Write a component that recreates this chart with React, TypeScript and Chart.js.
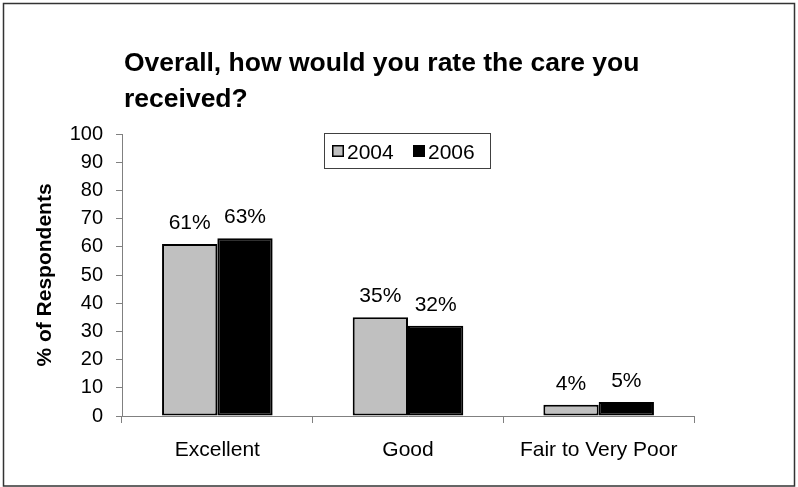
import React, { useEffect, useRef } from "react";
import { Chart, registerables } from "chart.js";

Chart.register(...registerables);

const categories = ["Excellent", "Good", "Fair to Very Poor"];
const seriesLabels = ["2004", "2006"];
const values2004 = [61, 35, 4];
const values2006 = [63, 32, 5];
const seriesColors = ["#C0C0C0", "#000000"];
const titleLines = ["Overall, how would you rate the care you", "received?"];
const yAxisTitle = "% of Respondents";
const yMin = 0;
const yMax = 100;
const yStep = 10;

const FONT = "'Liberation Sans', Arial, Helvetica, sans-serif";

const framePlugin = {
  id: "frame",
  beforeDraw(chart: any) {
    const ctx = chart.ctx;
    ctx.save();
    ctx.fillStyle = "#ffffff";
    ctx.fillRect(0, 0, chart.width, chart.height);
    ctx.strokeStyle = "#333333";
    ctx.lineWidth = 1.5;
    ctx.strokeRect(3.5, 3.5, chart.width - 7, chart.height - 4.5);
    ctx.restore();
  },
};

const titlePlugin = {
  id: "customTitle",
  afterDraw(chart: any) {
    const ctx = chart.ctx;
    ctx.save();
    ctx.fillStyle = "#000";
    ctx.font = `bold 26.5px ${FONT}`;
    ctx.textAlign = "left";
    ctx.textBaseline = "alphabetic";
    titleLines.forEach((line, i) => {
      ctx.fillText(line, 124, 71 + i * 36);
    });
    // y axis title
    const ca = chart.chartArea;
    ctx.translate(45, (ca.top + ca.bottom) / 2);
    ctx.rotate(-Math.PI / 2);
    ctx.font = `bold 21px ${FONT}`;
    ctx.textAlign = "center";
    ctx.textBaseline = "middle";
    ctx.fillText(yAxisTitle, 0, 0);
    ctx.restore();
  },
};

const legendPlugin = {
  id: "customLegend",
  afterDraw(chart: any) {
    const ctx = chart.ctx;
    ctx.save();
    ctx.strokeStyle = "#404040";
    ctx.lineWidth = 1;
    ctx.strokeRect(324.5, 133.5, 166, 35);
    ctx.font = `21px ${FONT}`;
    ctx.textBaseline = "alphabetic";
    ctx.textAlign = "left";
    const starts = [332, 413];
    chart.data.datasets.forEach((ds: any, i: number) => {
      const x = starts[i];
      ctx.fillStyle = ds.backgroundColor;
      ctx.fillRect(x, 145, 12, 12);
      ctx.strokeStyle = "#000";
      ctx.lineWidth = 1.5;
      ctx.strokeRect(x + 0.75, 145.75, 10.5, 10.5);
      ctx.fillStyle = "#000";
      ctx.fillText(ds.label, x + 15, 158.5);
    });
    ctx.restore();
  },
};

const dataLabelPlugin = {
  id: "dataLabels",
  afterDatasetsDraw(chart: any) {
    const ctx = chart.ctx;
    ctx.save();
    ctx.fillStyle = "#000";
    ctx.font = `21px ${FONT}`;
    ctx.textAlign = "center";
    ctx.textBaseline = "alphabetic";
    chart.data.datasets.forEach((ds: any, di: number) => {
      const meta = chart.getDatasetMeta(di);
      meta.data.forEach((el: any, i: number) => {
        ctx.fillText(`${ds.data[i]}%`, el.x, el.y - 15);
      });
    });
    ctx.restore();
  },
};

export default function App() {
  const canvasRef = useRef<HTMLCanvasElement | null>(null);

  useEffect(() => {
    if (!canvasRef.current) return;
    Chart.defaults.font.family = FONT;
    const chart = new Chart(canvasRef.current, {
      type: "bar",
      data: {
        labels: categories,
        datasets: [
          {
            label: seriesLabels[0],
            data: values2004,
            backgroundColor: seriesColors[0],
            borderColor: "#000",
            borderWidth: 2,
            borderSkipped: false,
          },
          {
            label: seriesLabels[1],
            data: values2006,
            backgroundColor: seriesColors[1],
            borderColor: "#000",
            borderWidth: 2,
            borderSkipped: false,
          },
        ],
      },
      options: {
        responsive: false,
        animation: false,
        devicePixelRatio: 1,
        layout: { padding: { left: 0, top: 134, right: 104, bottom: 0 } },
        datasets: {
          bar: { categoryPercentage: 0.58, barPercentage: 1 },
        },
        plugins: {
          legend: { display: false },
          title: { display: false },
          tooltip: { enabled: false },
        },
        scales: {
          x: {
            type: "category",
            offset: true,
            grid: {
              offset: true,
              drawOnChartArea: false,
              drawTicks: true,
              tickLength: 7,
              color: "#808080",
            },
            border: { color: "#808080", width: 1 },
            ticks: { color: "#000", font: { size: 21, family: FONT }, padding: 15, maxRotation: 0, autoSkip: false },
            afterFit: (scale: any) => {
              scale.height = 71;
            },
          },
          y: {
            min: yMin,
            max: yMax,
            ticks: { stepSize: yStep, color: "#000", font: { size: 20, family: FONT }, padding: 13 },
            grid: {
              drawOnChartArea: false,
              drawTicks: true,
              tickLength: 6,
              color: "#808080",
            },
            border: { color: "#808080", width: 1 },
            afterFit: (scale: any) => {
              scale.width = 122;
            },
          },
        },
      },
      plugins: [framePlugin, titlePlugin, legendPlugin, dataLabelPlugin],
    });
    return () => chart.destroy();
  }, []);

  return (
    <div style={{ position: "fixed", left: 0, top: 0, width: 798, height: 487, background: "#fff" }}>
      <canvas ref={canvasRef} width={798} height={487} style={{ display: "block" }} />
    </div>
  );
}
